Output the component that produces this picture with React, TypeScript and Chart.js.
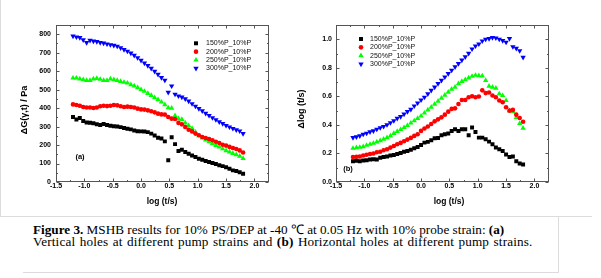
import React, { useEffect, useRef } from 'react';
import { Chart, registerables } from 'chart.js';
import { drawPoint } from 'chart.js/helpers';

Chart.register(...registerables);

// ---------- data ----------
const logT = [
  -1.2, -1.14, -1.08, -1.02, -0.96, -0.9, -0.84, -0.78, -0.72, -0.66,
  -0.6, -0.54, -0.48, -0.42, -0.36, -0.3, -0.24, -0.18, -0.12, -0.06,
  0.0, 0.06, 0.12, 0.18, 0.24, 0.3, 0.36, 0.42, 0.48, 0.54,
  0.6, 0.66, 0.72, 0.78, 0.84, 0.9, 0.96, 1.02, 1.08, 1.14,
  1.2, 1.26, 1.32, 1.38, 1.44, 1.5, 1.56, 1.62, 1.68, 1.74, 1.8,
];

const seriesLabels = ['150%P_10%P', '200%P_10%P', '250%P_10%P', '300%P_10%P'];

// (a) Delta G(gamma,t) / Pa
const dG150 = [
  352, 338, 346, 330, 322, 321, 318, 313, 309, 314,
  309, 305, 302, 300, 297, 292, 288, 285, 279, 275,
  274, 273, 270, 262, 252, 240, 236, 220, 118, 242,
  205, 168, 175, 162, 153, 144, 135, 126, 120, 114,
  108, 103, 97, 91, 86, 80, 72, 63, 60, 53, 45,
];
const dG200 = [
  420, 417, 413, 406, 403, 403, 401, 403, 410, 413,
  411, 413, 417, 415, 410, 406, 408, 406, 403, 397,
  393, 392, 388, 383, 377, 370, 366, 365, 352, 343,
  341, 320, 312, 298, 283, 274, 262, 253, 244, 238,
  233, 226, 218, 211, 202, 197, 190, 184, 179, 171, 160,
];
const dG250 = [
  563, 563, 558, 554, 550, 550, 558, 561, 556, 550,
  550, 558, 554, 550, 545, 540, 536, 527, 520, 511,
  500, 491, 480, 469, 457, 446, 433, 419, 402, 400,
  359, 343, 339, 320, 305, 290, 270, 250, 238, 228,
  218, 208, 198, 190, 180, 170, 163, 155, 148, 140, 128,
];
const dG300 = [
  790, 785, 782, 770, 755, 767, 763, 760, 755, 752,
  747, 743, 740, 735, 726, 717, 708, 698, 686, 673,
  659, 644, 630, 615, 599, 583, 565, 551, 485, 520,
  475, 466, 460, 450, 438, 424, 410, 397, 385, 372,
  360, 348, 337, 326, 316, 306, 298, 290, 282, 276, 262,
];

// (b) Delta log (t/s)
const dL150 = [
  0.146, 0.149, 0.146, 0.151, 0.153, 0.158, 0.16, 0.158, 0.17, 0.175,
  0.179, 0.186, 0.189, 0.196, 0.203, 0.212, 0.217, 0.226, 0.236, 0.245,
  0.259, 0.276, 0.281, 0.292, 0.307, 0.309, 0.328, 0.335, 0.34, 0.358,
  0.37, 0.358, 0.37, 0.37, 0.328, 0.382, 0.351, 0.311, 0.311, 0.3,
  0.283, 0.264, 0.241, 0.229, 0.217, 0.193, 0.175, 0.179, 0.146, 0.13, 0.123,
];
const dL200 = [
  0.175, 0.177, 0.179, 0.186, 0.191, 0.196, 0.2, 0.208, 0.212, 0.222,
  0.229, 0.241, 0.252, 0.264, 0.274, 0.285, 0.297, 0.309, 0.323, 0.335,
  0.358, 0.375, 0.389, 0.406, 0.425, 0.439, 0.453, 0.472, 0.493, 0.512,
  0.516, 0.547, 0.575, 0.575, 0.594, 0.601, 0.594, 0.599, 0.642, 0.623,
  0.627, 0.606, 0.594, 0.571, 0.559, 0.524, 0.5, 0.505, 0.472, 0.448, 0.422,
];
const dL250 = [
  0.236, 0.241, 0.243, 0.248, 0.257, 0.264, 0.271, 0.281, 0.29, 0.3,
  0.311, 0.323, 0.34, 0.354, 0.368, 0.382, 0.396, 0.413, 0.429, 0.446,
  0.462, 0.483, 0.505, 0.524, 0.545, 0.566, 0.587, 0.608, 0.63, 0.651,
  0.665, 0.689, 0.705, 0.717, 0.729, 0.741, 0.748, 0.745, 0.743, 0.712,
  0.672, 0.665, 0.658, 0.618, 0.606, 0.571, 0.5, 0.493, 0.453, 0.41, 0.377,
];
const dL300 = [
  0.311, 0.316, 0.323, 0.335, 0.342, 0.351, 0.358, 0.37, 0.38, 0.389,
  0.401, 0.415, 0.429, 0.446, 0.458, 0.476, 0.493, 0.509, 0.533, 0.554,
  0.575, 0.594, 0.618, 0.642, 0.665, 0.689, 0.712, 0.736, 0.759, 0.783,
  0.807, 0.83, 0.854, 0.877, 0.901, 0.932, 0.953, 0.967, 0.988, 1.0,
  1.005, 1.012, 1.009, 1.0, 0.991, 0.979, 1.005, 0.948, 0.936, 0.92, 0.873,
];

// tick lists
const xMajorTicks = [-1.5, -1.0, -0.5, 0.0, 0.5, 1.0, 1.5, 2.0];
const xMinorTicks = [-1.25, -0.75, -0.25, 0.25, 0.75, 1.25, 1.75];
const yMajorTicksA = [0, 100, 200, 300, 400, 500, 600, 700, 800];
const yMinorTicksA = [50, 150, 250, 350, 450, 550, 650, 750];
const yMajorTicksB = [0, 0.2, 0.4, 0.6, 0.8, 1.0];
const yMinorTicksB = [0.1, 0.3, 0.5, 0.7, 0.9];

// ---------- styles ----------
const markerStyles = [
  { color: '#000000', pointStyle: 'rect', radius: 2.8, rotation: 0 },
  { color: '#ff0000', pointStyle: 'circle', radius: 2.3, rotation: 0 },
  { color: '#00ff00', pointStyle: 'triangle', radius: 3.1, rotation: 0 },
  { color: '#0000ff', pointStyle: 'triangle', radius: 3.1, rotation: 180 },
];

const SANS = '"Liberation Sans", Arial, Helvetica, sans-serif';
const CH_H = 216;

const decorPlugin = {
  id: 'decor',
  afterDraw(chart: any, _args: any, o: any) {
    const { ctx, chartArea } = chart;
    const xs = chart.scales.x;
    const ys = chart.scales.y;
    const L = Math.round(chartArea.left) + 0.5;
    const R = Math.round(chartArea.right) - 0.5;
    const T = Math.round(chartArea.top) + 0.5;
    const B = Math.round(chartArea.bottom) - 0.5;
    ctx.save();
    ctx.strokeStyle = '#555555';
    ctx.lineWidth = 1;
    ctx.strokeRect(L, T, R - L, B - T);
    ctx.beginPath();
    const tx = (v: number, len: number) => {
      const p = Math.round(xs.getPixelForValue(v)) + 0.5;
      ctx.moveTo(p, B); ctx.lineTo(p, B - len);
      ctx.moveTo(p, T); ctx.lineTo(p, T + len);
    };
    const ty = (v: number, len: number) => {
      const p = Math.round(ys.getPixelForValue(v)) + 0.5;
      ctx.moveTo(L, p); ctx.lineTo(L + len, p);
      ctx.moveTo(R, p); ctx.lineTo(R - len, p);
    };
    o.xMajor.forEach((v: number) => tx(v, 3));
    o.xMinor.forEach((v: number) => tx(v, 1.5));
    o.yMajor.forEach((v: number) => ty(v, 3));
    o.yMinor.forEach((v: number) => ty(v, 1.5));
    ctx.stroke();

    // legend
    chart.data.datasets.forEach((ds: any, i: number) => {
      const y = o.legend.y0 + i * o.legend.dy;
      ctx.fillStyle = ds.pointBackgroundColor;
      drawPoint(ctx, { pointStyle: ds.pointStyle, rotation: ds.pointRotation, radius: ds.pointRadius, borderWidth: 0 }, o.legend.mx, y);
      ctx.fillStyle = '#111111';
      ctx.font = `7px ${SANS}`;
      ctx.textAlign = 'left';
      ctx.textBaseline = 'middle';
      ctx.fillText(ds.label, o.legend.tx, y);
    });

    // panel tag
    ctx.fillStyle = '#000000';
    ctx.font = `bold 7.5px ${SANS}`;
    ctx.textAlign = 'center';
    ctx.textBaseline = 'middle';
    ctx.fillText(o.tag.text, o.tag.x, o.tag.y);

    // axis titles
    ctx.font = `bold 8.5px ${SANS}`;
    ctx.fillText(o.xTitle.text, o.xTitle.x, o.xTitle.y);
    ctx.save();
    ctx.translate(o.yTitle.x, o.yTitle.y);
    ctx.rotate(-Math.PI / 2);
    ctx.font = `bold 9px ${SANS}`;
    ctx.fillText(o.yTitle.text, 0, 0);
    ctx.restore();
    ctx.restore();
  },
};

function makeDatasets(series: number[][]) {
  return series.map((arr, i) => {
    const s = markerStyles[i];
    return {
      label: seriesLabels[i],
      data: logT.map((x, j) => ({ x, y: arr[j] })),
      showLine: false,
      pointStyle: s.pointStyle,
      pointRotation: s.rotation,
      pointRadius: s.radius,
      pointBorderWidth: 0,
      pointBackgroundColor: s.color,
      pointBorderColor: s.color,
      backgroundColor: s.color,
      borderColor: s.color,
    };
  });
}

function makeConfig(p: any) {
  const tickFont = { family: SANS, weight: 'bold', size: 7 };
  return {
    type: 'scatter',
    data: { datasets: makeDatasets(p.series) },
    options: {
      responsive: false,
      animation: false,
      devicePixelRatio: 1,
      layout: { padding: { left: 0, top: 25, right: p.rightPad, bottom: 0 } },
      plugins: {
        legend: { display: false },
        tooltip: { enabled: false },
        decor: p.decor,
      },
      scales: {
        x: {
          type: 'linear',
          position: 'bottom',
          min: -1.5,
          max: 2.25,
          afterFit: (s: any) => { s.height = CH_H - 182; },
          grid: { display: false, drawTicks: false },
          border: { display: false },
          ticks: {
            stepSize: 0.5,
            includeBounds: false,
            padding: 0,
            color: '#000000',
            font: tickFont,
            maxRotation: 0,
            autoSkip: false,
            callback: (v: any) => Number(v).toFixed(1),
          },
        },
        y: {
          type: 'linear',
          position: 'left',
          min: 0,
          max: p.yMax,
          afterFit: (s: any) => { s.width = p.yWidth; },
          grid: { display: false, drawTicks: false },
          border: { display: false },
          ticks: {
            stepSize: p.yStep,
            includeBounds: false,
            padding: p.yPad,
            color: '#000000',
            font: tickFont,
            autoSkip: false,
            callback: p.yFmt,
          },
        },
      },
    },
    plugins: [decorPlugin],
  };
}

function Panel({ left, width, params }: { left: number; width: number; params: any }) {
  const ref = useRef<HTMLCanvasElement>(null);
  useEffect(() => {
    const chart = new Chart(ref.current as HTMLCanvasElement, makeConfig(params) as any);
    return () => chart.destroy();
  }, []);
  return (
    <canvas
      ref={ref}
      width={width}
      height={CH_H}
      style={{ position: 'absolute', left, top: 0, width, height: CH_H }}
    />
  );
}

const paramsA = {
  series: [dG150, dG200, dG250, dG300],
  rightPad: 290 - 268.6,
  yMax: 850,
  yStep: 100,
  yWidth: 56,
  yPad: 5,
  yFmt: (v: any) => String(Math.round(Number(v))),
  decor: {
    xMajor: xMajorTicks, xMinor: xMinorTicks, yMajor: yMajorTicksA, yMinor: yMinorTicksA,
    legend: { mx: 196, tx: 206, y0: 43.3, dy: 8.35 },
    tag: { text: '(a)', x: 80, y: 157 },
    xTitle: { text: 'log (t/s)', x: 162, y: 202 },
    yTitle: { text: 'ΔG(γ,t) / Pa', x: 25, y: 110 },
  },
};

const OFF_B = 290;
const paramsB = {
  series: [dL150, dL200, dL250, dL300],
  rightPad: 311 - (548.6 - OFF_B),
  yMax: 1.1,
  yStep: 0.2,
  yWidth: 336 - OFF_B,
  yPad: 4,
  yFmt: (v: any) => Number(v).toFixed(1),
  decor: {
    xMajor: xMajorTicks, xMinor: xMinorTicks, yMajor: yMajorTicksB, yMinor: yMinorTicksB,
    legend: { mx: 361 - OFF_B, tx: 370 - OFF_B, y0: 39, dy: 8.35 },
    tag: { text: '(b)', x: 348 - OFF_B, y: 169 },
    xTitle: { text: 'log (t/s)', x: 449 - OFF_B, y: 202 },
    yTitle: { text: 'Δlog (t/s)', x: 302 - OFF_B, y: 109 },
  },
};

export default function App() {
  const captionLine: React.CSSProperties = {
    position: 'absolute',
    left: 33,
    whiteSpace: 'nowrap',
    fontFamily: '"Liberation Serif", "Times New Roman", serif',
    fontSize: 13.2,
    lineHeight: '12px',
    color: '#000',
  };
  return (
    <div style={{ position: 'absolute', left: 0, top: 0, width: 601, height: 278, background: '#fff', overflow: 'hidden' }}>
      <div style={{ position: 'absolute', left: 0, top: 0, width: 592, height: 217, borderLeft: '1px solid #dcdcdc', borderBottom: '1px solid #dcdcdc', boxSizing: 'border-box' }} />
      <div style={{ position: 'absolute', left: 23, top: 217, width: 536, height: 56, borderRight: '1px solid #dcdcdc', borderBottom: '1px solid #dcdcdc', boxSizing: 'border-box' }} />
      <Panel left={0} width={290} params={paramsA} />
      <Panel left={OFF_B} width={311} params={paramsB} />
      <div style={{ ...captionLine, top: 223.6 }}>
        <b>Figure 3.</b> MSHB results for 10% PS/DEP at -40 ℃ at 0.05 Hz with 10% probe strain: <b>(a)</b>
      </div>
      <div style={{ ...captionLine, top: 235.6, wordSpacing: '1px', letterSpacing: '0.15px' }}>
        Vertical holes at different pump strains and <b>(b)</b> Horizontal holes at different pump strains.
      </div>
    </div>
  );
}
